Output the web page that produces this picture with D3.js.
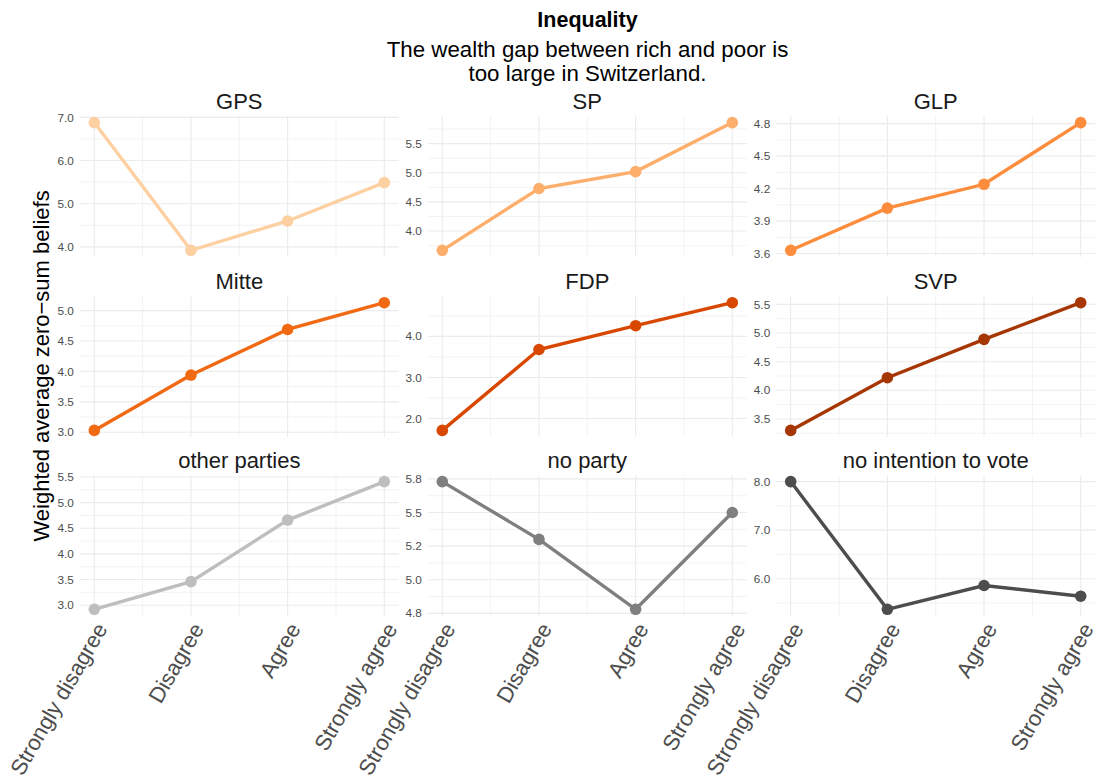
<!DOCTYPE html>
<html>
<head>
<meta charset="utf-8">
<script src="https://cdn.jsdelivr.net/npm/d3@7"></script>
<style>
  body { margin: 0; background: #fff; }
  svg { display: block; font-family: "Liberation Sans", Arial, sans-serif; }
</style>
</head>
<body>
<svg id="chart" width="1098" height="784"></svg>
<script>
// answer categories (x axis)
var categories = ["Strongly disagree", "Disagree", "Agree", "Strongly agree"];

// facets, in panel order
var parties = ["GPS", "SP", "GLP", "Mitte", "FDP", "SVP", "other parties", "no party", "no intention to vote"];
var partyColors = ["#fdd0a2", "#fdae6b", "#fd8d3c", "#f16913", "#d94801", "#a63603", "#bebebe", "#7f7f7f", "#4d4d4d"];

// weighted average zero-sum beliefs per answer category
var gpsValues = [6.88, 3.92, 4.60, 5.49];
var spValues = [3.67, 4.73, 5.02, 5.86];
var glpValues = [3.63, 4.02, 4.24, 4.81];
var mitteValues = [3.03, 3.94, 4.69, 5.13];
var fdpValues = [1.71, 3.68, 4.26, 4.82];
var svpValues = [3.30, 4.22, 4.89, 5.53];
var otherValues = [2.92, 3.46, 4.66, 5.41];
var noPartyValues = [5.73, 5.30, 4.78, 5.50];
var noVoteValues = [8.00, 5.37, 5.86, 5.64];

// y tick positions and labels per panel (free scales)
var gpsTicks = [4, 5, 6, 7], gpsLabels = ["4.0", "5.0", "6.0", "7.0"];
var spTicks = [4, 4.5, 5, 5.5], spLabels = ["4.0", "4.5", "5.0", "5.5"];
var glpTicks = [3.6, 3.9, 4.2, 4.5, 4.8], glpLabels = ["3.6", "3.9", "4.2", "4.5", "4.8"];
var mitteTicks = [3, 3.5, 4, 4.5, 5], mitteLabels = ["3.0", "3.5", "4.0", "4.5", "5.0"];
var fdpTicks = [2, 3, 4], fdpLabels = ["2.0", "3.0", "4.0"];
var svpTicks = [3.5, 4, 4.5, 5, 5.5], svpLabels = ["3.5", "4.0", "4.5", "5.0", "5.5"];
var otherTicks = [3, 3.5, 4, 4.5, 5, 5.5], otherLabels = ["3.0", "3.5", "4.0", "4.5", "5.0", "5.5"];
var noPartyTicks = [4.75, 5, 5.25, 5.5, 5.75], noPartyLabels = ["4.8", "5.0", "5.2", "5.5", "5.8"];
var noVoteTicks = [6, 7, 8], noVoteLabels = ["6.0", "7.0", "8.0"];

var allValues = [gpsValues, spValues, glpValues, mitteValues, fdpValues, svpValues, otherValues, noPartyValues, noVoteValues];
var allTicks = [gpsTicks, spTicks, glpTicks, mitteTicks, fdpTicks, svpTicks, otherTicks, noPartyTicks, noVoteTicks];
var allLabels = [gpsLabels, spLabels, glpLabels, mitteLabels, fdpLabels, svpLabels, otherLabels, noPartyLabels, noVoteLabels];

var svg = d3.select("#chart");

var colLeft = [79.8, 427.8, 776.2],
    rowTop = [116.2, 296.3, 475.2],
    panelW = 319,
    panelH = 140.5,
    gridCol = "#ebebeb";

// title block, centred over the panels
var cx = (colLeft[0] + colLeft[2] + panelW) / 2;
svg.append("text").attr("x", cx).attr("y", 26.5).attr("text-anchor", "middle")
    .style("font-size", "21.5px").style("font-weight", "bold").text("Inequality");
svg.append("text").attr("x", cx).attr("y", 56.5).attr("text-anchor", "middle")
    .style("font-size", "22.3px").text("The wealth gap between rich and poor is");
svg.append("text").attr("x", cx).attr("y", 80.5).attr("text-anchor", "middle")
    .style("font-size", "22.3px").text("too large in Switzerland.");

// y axis title
var midY = (rowTop[0] + rowTop[2] + panelH) / 2;
svg.append("text")
    .attr("transform", "translate(49," + midY + ") rotate(-90)")
    .attr("text-anchor", "middle")
    .style("font-size", "22px")
    .text("Weighted average zero\u2212sum beliefs");

function minorBreaks(ticks, dom) {
    var step = ticks[1] - ticks[0], out = [];
    for (var i = -1; i < ticks.length; i++) {
        var m = ticks[0] + (i + 0.5) * step;
        if (m >= dom[0] && m <= dom[1]) out.push(m);
    }
    return out;
}

parties.forEach(function(name, i) {
    var col = i % 3, row = Math.floor(i / 3);
    var vals = allValues[i];
    var lo = d3.min(vals), hi = d3.max(vals), pad = (hi - lo) * 0.05;
    var yDom = [lo - pad, hi + pad];

    var x = d3.scaleLinear().domain([0.85, 4.15]).range([0, panelW]);
    var y = d3.scaleLinear().domain(yDom).range([panelH, 0]);

    var g = svg.append("g").attr("transform", "translate(" + colLeft[col] + "," + rowTop[row] + ")");

    // minor grid
    g.selectAll(".ymin").data(minorBreaks(allTicks[i], yDom)).enter().append("line")
        .attr("x1", 0).attr("x2", panelW).attr("y1", y).attr("y2", y)
        .attr("stroke", gridCol).attr("stroke-width", 0.6);
    g.selectAll(".xmin").data([1.5, 2.5, 3.5]).enter().append("line")
        .attr("x1", x).attr("x2", x).attr("y1", 0).attr("y2", panelH)
        .attr("stroke", gridCol).attr("stroke-width", 0.6);

    // major grid
    g.selectAll(".ymaj").data(allTicks[i]).enter().append("line")
        .attr("x1", 0).attr("x2", panelW).attr("y1", y).attr("y2", y)
        .attr("stroke", gridCol).attr("stroke-width", 1.1);
    g.selectAll(".xmaj").data([1, 2, 3, 4]).enter().append("line")
        .attr("x1", x).attr("x2", x).attr("y1", 0).attr("y2", panelH)
        .attr("stroke", gridCol).attr("stroke-width", 1.1);

    // y tick labels
    g.selectAll(".ylab").data(allTicks[i]).enter().append("text")
        .attr("x", -6).attr("y", y).attr("dy", "0.35em")
        .attr("text-anchor", "end")
        .style("font-size", "11.8px").style("fill", "#4d4d4d")
        .text(function(d, k) { return allLabels[i][k]; });

    // strip title
    g.append("text").attr("x", panelW / 2).attr("y", -7.5)
        .attr("text-anchor", "middle").style("font-size", "22px").style("fill", "#1a1a1a")
        .text(name);

    // series
    var pts = vals.map(function(v, k) { return [k + 1, v]; });
    g.append("path").datum(pts)
        .attr("d", d3.line().x(function(d) { return x(d[0]); }).y(function(d) { return y(d[1]); }))
        .attr("fill", "none").attr("stroke", partyColors[i]).attr("stroke-width", 3.4);
    g.selectAll(".pt").data(pts).enter().append("circle")
        .attr("cx", function(d) { return x(d[0]); })
        .attr("cy", function(d) { return y(d[1]); })
        .attr("r", 5.8).attr("fill", partyColors[i]);

    // x tick labels on bottom row only
    if (row === 2) {
        g.selectAll(".xlab").data(categories).enter().append("text")
            .attr("transform", function(d, k) {
                return "translate(" + x(k + 1) + "," + (panelH + 5) + ") rotate(-60)";
            })
            .attr("text-anchor", "end").attr("dy", "0.72em")
            .style("font-size", "22px").style("fill", "#4d4d4d")
            .text(function(d) { return d; });
    }
});
</script>
</body>
</html>
